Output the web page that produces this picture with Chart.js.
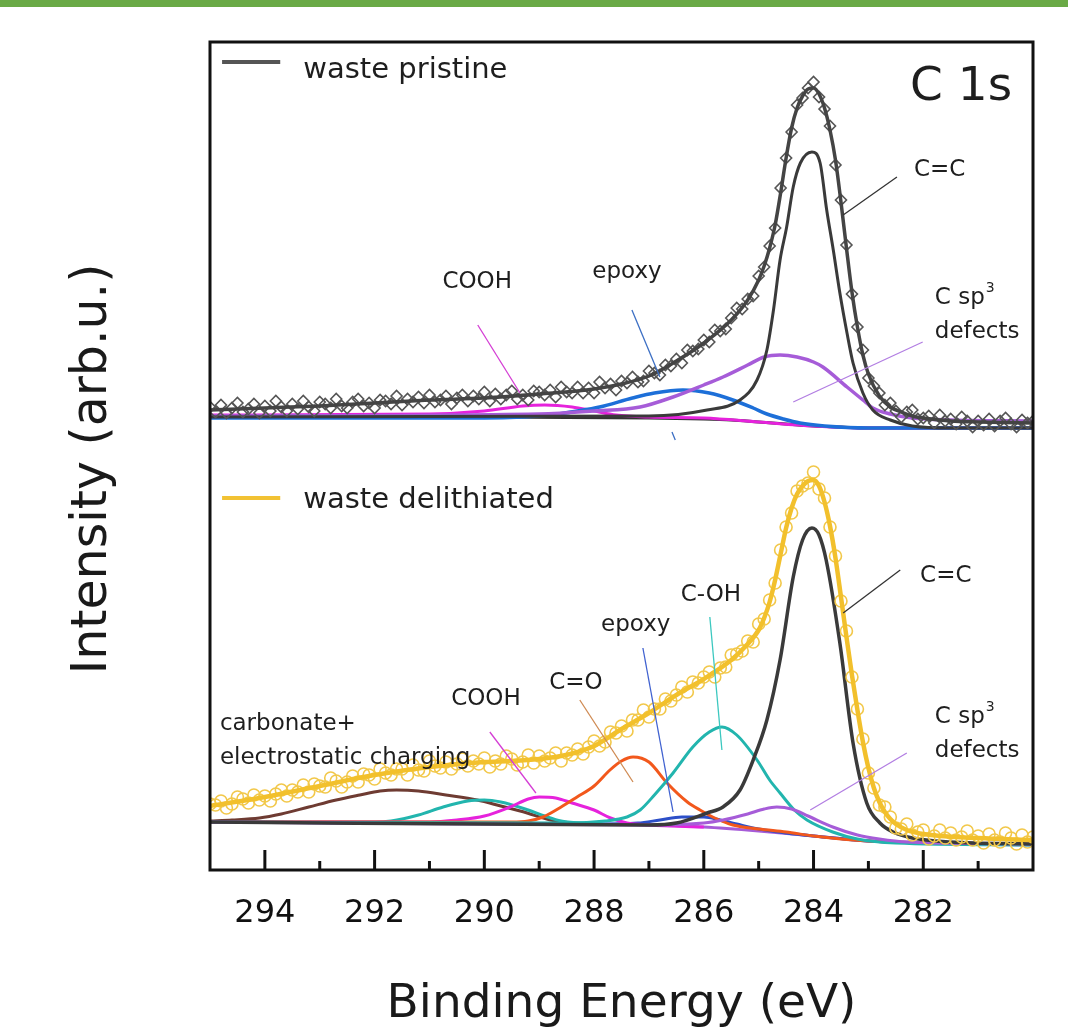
<!DOCTYPE html>
<html>
<head>
<meta charset="utf-8">
<title>C 1s XPS</title>
<script src="https://cdn.jsdelivr.net/npm/chart.js@4.4.1/dist/chart.umd.min.js"></script>
<style>
  html, body { margin: 0; padding: 0; background: #fff; }
  #wrap { position: relative; width: 1068px; height: 1034px; }
  #topBar { position: absolute; left: 0; top: 0; width: 1068px; height: 7px; background: #6aaa46; }
</style>
</head>
<body>
<div id="wrap">
  <canvas id="xpsChart" width="1068" height="1034"></canvas>
  <div id="topBar"></div>
</div>
<script>
// binding energy grid of the measured spectra (eV)
const energy = [
  295.0,294.9,294.8,294.7,294.6,294.5,294.4,294.3,294.2,294.1,
  294.0,293.9,293.8,293.7,293.6,293.5,293.4,293.3,293.2,293.1,
  293.0,292.9,292.8,292.7,292.6,292.5,292.4,292.3,292.2,292.1,
  292.0,291.9,291.8,291.7,291.6,291.5,291.4,291.3,291.2,291.1,
  291.0,290.9,290.8,290.7,290.6,290.5,290.4,290.3,290.2,290.1,
  290.0,289.9,289.8,289.7,289.6,289.5,289.4,289.3,289.2,289.1,
  289.0,288.9,288.8,288.7,288.6,288.5,288.4,288.3,288.2,288.1,
  288.0,287.9,287.8,287.7,287.6,287.5,287.4,287.3,287.2,287.1,
  287.0,286.9,286.8,286.7,286.6,286.5,286.4,286.3,286.2,286.1,
  286.0,285.9,285.8,285.7,285.6,285.5,285.4,285.3,285.2,285.1,
  285.0,284.9,284.8,284.7,284.6,284.5,284.4,284.3,284.2,284.1,
  284.0,283.9,283.8,283.7,283.6,283.5,283.4,283.3,283.2,283.1,
  283.0,282.9,282.8,282.7,282.6,282.5,282.4,282.3,282.2,282.1,
  282.0,281.9,281.8,281.7,281.6,281.5,281.4,281.3,281.2,281.1,
  281.0,280.9,280.8,280.7,280.6,280.5,280.4,280.3,280.2,280.1,
  280.0
];

// measured intensity, waste pristine (offset upwards)
const pristineCounts = [
  463,458,465,457,462,467,458,461,466,457,
  464,459,469,463,459,466,461,469,463,459,
  468,466,462,471,464,462,468,471,464,467,
  462,470,469,466,474,465,471,468,473,467,
  475,468,470,474,466,472,475,469,474,471,
  478,469,476,471,475,479,471,475,470,479,
  478,475,480,473,483,478,477,483,477,482,
  477,488,482,486,480,489,487,493,488,489,
  499,497,495,505,504,511,507,520,519,521,
  530,528,540,539,541,552,562,561,571,574,
  594,603,624,642,682,712,738,765,772,782,
  788,773,761,744,705,670,625,576,543,520,
  492,484,477,465,467,459,453,458,460,451,
  452,454,447,455,449,451,446,453,449,443,
  449,445,451,444,449,452,446,443,450,447,
  449
];

// measured intensity, waste delithiated
const delithCounts = [
  66,65,69,62,66,73,71,67,75,70,
  74,69,76,80,74,80,78,85,78,86,
  84,83,92,89,83,88,94,88,96,95,
  91,101,97,95,101,101,95,105,100,99,
  109,104,102,108,101,106,111,104,109,106,
  112,103,109,106,114,111,105,108,115,107,
  114,109,112,117,109,117,115,121,116,123,
  129,124,128,138,137,144,139,150,150,160,
  153,161,161,171,169,175,183,178,188,187,
  193,198,193,202,203,215,216,219,229,228,
  246,251,270,287,320,343,357,379,384,387,
  398,381,372,343,314,269,239,193,161,131,
  97,82,65,63,53,42,41,46,35,38,
  40,31,34,40,32,37,30,33,39,30,
  34,27,36,30,28,37,32,26,35,28,
  33
];

// fitted curves, [eV, intensity]
const pristineEnvelope = [[295,460],[294,462],[293,464],[292,467],[291,470],[290,472],[289,476],[288,481],[287.5,486],[287,494],[286.5,509],[286,527],[285.5,550],[285.2,570],[285,590],[284.9,604],[284.8,622],[284.7,645],[284.6,677],[284.5,712],[284.4,742],[284.3,762],[284.2,774],[284.1,781],[284,782],[283.9,776],[283.8,762],[283.7,740],[283.6,710],[283.5,668],[283.4,622],[283.3,578],[283.2,543],[283.1,515],[283,496],[282.8,474],[282.6,463],[282.4,458],[282.2,454],[282,452],[281.5,449],[281,448],[280,447]];
const pristineBackground = [[295,453],[290,453],[287,452],[286,451],[285.5,450],[285,448],[284.5,446],[284,444],[283.5,443],[283,442],[280,442]];
const pristineCC = [[295,453],[287,454],[285.94,460],[285.34,470],[285.03,490],[284.85,520],[284.73,560],[284.61,610],[284.49,643],[284.37,683],[284.24,707],[284.03,718],[283.88,707],[283.76,660],[283.64,620],[283.52,577],[283.39,537],[283.28,507],[283.1,477],[282.92,460],[282.6,450],[282.2,444],[281.5,442],[280,442]];
const pristineSp3 = [[295,454],[289,456],[288,459],[287.16,463],[286.56,473],[286,485],[285.65,493],[285.2,505],[284.9,513],[284.61,515],[284.3,513],[284,508],[283.83,503],[283.39,483],[283.1,470],[282.92,462],[282.6,456],[282.2,452],[281.5,450],[280,449]];
const pristineEpoxy = [[295,452],[290,452],[289.3,453],[288.8,455],[288.3,459],[287.9,463],[287.3,472],[286.9,477],[286.38,480],[285.9,477],[285.47,470],[285.1,462],[284.85,456],[284.55,451],[284.25,447],[283.8,444],[283,442],[280,442]];
const pristineCOOH = [[295,455],[291,456],[290,459],[289.3,464],[288.9,465],[288.4,463],[288,459],[287.6,455],[287,453],[286,452],[285,448],[284,444],[283,442],[280,442]];

const delithEnvelope = [[295,64],[294,73],[293,84],[292,95],[291,103],[290,108],[289.5,109],[289,111],[288.6,114],[288.3,118],[288,124],[287.5,141],[287,157],[286.5,175],[286,191],[285.5,210],[285.2,226],[285,240],[284.9,252],[284.8,268],[284.7,290],[284.6,316],[284.5,342],[284.4,362],[284.3,376],[284.2,384],[284.1,389],[284,390],[283.9,384],[283.8,368],[283.7,344],[283.6,312],[283.5,273],[283.4,233],[283.3,195],[283.2,160],[283.1,128],[283,102],[282.9,82],[282.8,68],[282.7,58],[282.6,51],[282.5,46],[282.3,40],[282,36],[281,32],[280,30]];
const delithBackground = [[295,48],[290,47],[288,46],[287,45],[286,43],[285,39],[284,34],[283,29],[282,27],[280,25]];
const delithCC = [[295,48],[287,45],[286.5,47],[285.94,57],[285.65,63],[285.34,80],[285.1,110],[284.85,150],[284.61,210],[284.37,293],[284.2,330],[284.03,342],[283.9,335],[283.77,310],[283.52,227],[283.28,127],[283.03,67],[282.79,47],[282.55,38],[282.2,32],[281.5,28],[280,26]];
const delithCOH = [[295,48],[288.5,47],[287.8,49],[287.4,53],[287.16,60],[286.9,75],[286.56,97],[286.2,123],[285.9,138],[285.67,143],[285.4,135],[285.03,110],[284.8,90],[284.61,77],[284.35,60],[284.12,50],[283.65,38],[283.2,31],[282.5,27],[280,25]];
const delithShake = [[295,48],[292,48],[291.7,49],[291.2,55],[290.75,63],[290.3,69],[290,70],[289.7,68],[289.2,60],[288.9,54],[288.6,49],[288,46]];
const delithCarbonate = [[295,49],[294.6,50],[294.1,52],[293.7,56],[293.2,63],[292.7,70],[292.27,75],[291.9,79],[291.6,80],[291.2,79],[290.7,75],[290.13,70],[289.7,64],[289.22,57],[288.8,50],[288.4,47],[288,46]];
const delithCOOH = [[295,48],[291,48],[290.5,50],[290,54],[289.53,63],[289.2,71],[289,73],[288.7,72],[288.4,67],[288,60],[287.7,52],[287.4,47],[287,45],[286,43]];
const delithCO = [[295,48],[289.5,48],[289.2,49],[288.93,53],[288.6,63],[288.31,73],[288,84],[287.71,100],[287.5,109],[287.29,113],[287,108],[286.67,87],[286.3,68],[286.07,60],[285.8,52],[285.47,45],[285,41],[284.5,38],[284,34],[283,29],[280,26]];
const delithEpoxy = [[295,48],[288,46],[287.2,47],[286.8,50],[286.4,53],[286,53],[285.7,50],[285.4,46],[285,41],[284.5,37],[284,34],[283,29],[280,26]];
const delithSp3 = [[295,48],[287,45],[286,47],[285.65,50],[285.2,56],[284.9,61],[284.67,63],[284.4,61],[284.1,54],[283.65,43],[283.2,35],[282.8,31],[282.3,28],[280,26]];

// axis
const xTickLabels = [294, 292, 290, 288, 286, 284, 282];
const majorTicks = [294, 292, 290, 288, 286, 284, 282];
const minorTicks = [293, 291, 289, 287, 285, 283, 281];

// text labels, placed in data coordinates
const labels = [
  { text: 'C 1s', e: 281.31, v: 782, size: 47 },
  { text: 'COOH', e: 290.13, v: 588, size: 23 },
  { text: 'epoxy', e: 287.40, v: 598, size: 23 },
  { text: 'C=C', e: 281.70, v: 700, size: 23 },
  { text: 'C sp', sup: '3', e: 281.79, v: 572, size: 23, align: 'left' },
  { text: 'defects', e: 281.79, v: 538, size: 23, align: 'left' },
  { text: 'C=C', e: 281.59, v: 294, size: 23 },
  { text: 'C-OH', e: 285.87, v: 275, size: 23 },
  { text: 'epoxy', e: 287.24, v: 245, size: 23 },
  { text: 'C=O', e: 288.33, v: 187, size: 23 },
  { text: 'COOH', e: 289.97, v: 171, size: 23 },
  { text: 'carbonate+', e: 294.82, v: 146, size: 23, align: 'left' },
  { text: 'electrostatic charging', e: 294.82, v: 112, size: 23, align: 'left' },
  { text: 'C sp', sup: '3', e: 281.79, v: 153, size: 23, align: 'left' },
  { text: 'defects', e: 281.79, v: 119, size: 23, align: 'left' },
  { text: 'waste pristine', e: 293.30, v: 800, size: 29, align: 'left' },
  { text: 'waste delithiated', e: 293.30, v: 370, size: 29, align: 'left' }
];

// leader lines and legend keys, data coordinates
const leaders = [
  { from: [290.12, 545], to: [289.35, 477], color: '#d43ed4', width: 1.3 },
  { from: [287.31, 560], to: [286.80, 493], color: '#3c6fc4', width: 1.3 },
  { from: [286.58, 438], to: [286.52, 430], color: '#3c6fc4', width: 1.3 },
  { from: [282.48, 693], to: [283.46, 655], color: '#333333', width: 1.3 },
  { from: [282.01, 528], to: [284.37, 468], color: '#b27ee2', width: 1.3 },
  { from: [282.42, 300], to: [283.46, 257], color: '#333333', width: 1.3 },
  { from: [285.89, 253], to: [285.67, 120], color: '#3cc8c0', width: 1.3 },
  { from: [287.11, 222], to: [286.56, 58], color: '#4062d0', width: 1.3 },
  { from: [288.26, 170], to: [287.29, 88], color: '#cf8a52', width: 1.3 },
  { from: [289.90, 138], to: [289.06, 77], color: '#d43ed4', width: 1.3 },
  { from: [282.30, 117], to: [284.06, 60], color: '#b27ee2', width: 1.3 },
  { from: [294.78, 808], to: [293.72, 808], color: '#555555', width: 4 },
  { from: [294.78, 372], to: [293.72, 372], color: '#f2c233', width: 4 }
];

const FONT = "'DejaVu Sans', sans-serif";

function pts(arr) {
  return arr.map(p => ({ x: p[0], y: p[1] }));
}

function fitLine(arr, color, width) {
  return {
    data: pts(arr),
    showLine: true,
    borderColor: color,
    borderWidth: width,
    pointRadius: 0,
    fill: false,
    cubicInterpolationMode: 'monotone'
  };
}

function measured(values, style, color, radius) {
  return {
    data: energy.map((e, i) => ({ x: e, y: values[i] })),
    showLine: false,
    pointStyle: style,
    pointRadius: radius,
    pointBorderWidth: 1.6,
    pointBorderColor: color,
    pointBackgroundColor: 'rgba(0,0,0,0)'
  };
}

const xpsDecor = {
  id: 'xpsDecor',
  afterDatasetsDraw(chart) {
    const { ctx, chartArea: a, scales: { x, y } } = chart;
    ctx.save();

    // leader lines + legend keys
    leaders.forEach(l => {
      ctx.strokeStyle = l.color;
      ctx.lineWidth = l.width;
      ctx.beginPath();
      ctx.moveTo(x.getPixelForValue(l.from[0]), y.getPixelForValue(l.from[1]));
      ctx.lineTo(x.getPixelForValue(l.to[0]), y.getPixelForValue(l.to[1]));
      ctx.stroke();
    });

    // labels
    ctx.fillStyle = '#1e1e1e';
    ctx.textBaseline = 'middle';
    labels.forEach(t => {
      const px = x.getPixelForValue(t.e);
      const py = y.getPixelForValue(t.v);
      ctx.font = t.size + 'px ' + FONT;
      ctx.textAlign = t.align || 'center';
      ctx.fillText(t.text, px, py);
      if (t.sup) {
        const w = ctx.measureText(t.text).width;
        ctx.font = Math.round(t.size * 0.6) + 'px ' + FONT;
        ctx.textAlign = 'left';
        ctx.fillText(t.sup, px + w + 1, py - t.size * 0.4);
      }
    });

    // frame
    ctx.strokeStyle = '#111';
    ctx.lineWidth = 3;
    ctx.strokeRect(a.left, a.top, a.right - a.left, a.bottom - a.top);

    // inward ticks on the bottom axis
    ctx.lineWidth = 3;
    majorTicks.forEach(v => {
      const px = x.getPixelForValue(v);
      ctx.beginPath(); ctx.moveTo(px, a.bottom); ctx.lineTo(px, a.bottom - 20); ctx.stroke();
    });
    minorTicks.forEach(v => {
      const px = x.getPixelForValue(v);
      ctx.beginPath(); ctx.moveTo(px, a.bottom); ctx.lineTo(px, a.bottom - 9); ctx.stroke();
    });

    // axis titles
    ctx.fillStyle = '#1a1a1a';
    ctx.textAlign = 'center';
    ctx.textBaseline = 'middle';
    ctx.font = '47px ' + FONT;
    ctx.fillText('Binding Energy (eV)', (a.left + a.right) / 2, a.bottom + 135);

    ctx.translate(a.left - 117, (a.top + a.bottom) / 2 + 13);
    ctx.rotate(-Math.PI / 2);
    ctx.font = '49px ' + FONT;
    ctx.fillText('Intensity (arb.u.)', 0, 0);

    ctx.restore();
  }
};

const datasets = [
  fitLine(pristineEnvelope, '#444444', 3.5),
  fitLine(delithEnvelope, '#f2c02c', 4.5),
  measured(pristineCounts, 'rectRot', '#555555', 5.5),
  measured(delithCounts, 'circle', '#f2c84a', 6),
  fitLine(pristineCC, '#3a3a3a', 3),
  fitLine(delithCC, '#3a3a3a', 3.5),
  fitLine(pristineSp3, '#a65cd8', 3.5),
  fitLine(delithSp3, '#a65cd8', 3),
  fitLine(delithCOH, '#22b5ae', 3),
  fitLine(delithCO, '#f2581c', 3),
  fitLine(delithCOOH, '#e622dc', 3),
  fitLine(pristineEpoxy, '#1d6fd8', 3.5),
  fitLine(delithEpoxy, '#2c4fc8', 3),
  fitLine(pristineCOOH, '#e622dc', 3),
  fitLine(delithShake, '#22b5ae', 3),
  fitLine(delithCarbonate, '#6e3b32', 3),
  fitLine(pristineBackground, '#333333', 3),
  fitLine(delithBackground, '#a65cd8', 3)
];

new Chart(document.getElementById('xpsChart'), {
  type: 'scatter',
  data: { datasets: datasets },
  options: {
    responsive: false,
    animation: false,
    layout: { padding: { left: 210, right: 35, top: 42, bottom: 0 } },
    plugins: {
      legend: { display: false },
      tooltip: { enabled: false }
    },
    scales: {
      x: {
        type: 'linear',
        reverse: true,
        min: 280,
        max: 295,
        grid: { display: false, drawTicks: false },
        border: { display: false },
        afterBuildTicks: s => { s.ticks = xTickLabels.map(v => ({ value: v })); },
        afterFit: s => { s.height = 164; },
        ticks: {
          color: '#111',
          padding: 24,
          font: { family: FONT, size: 32 }
        }
      },
      y: { min: 0, max: 828, display: false }
    }
  },
  plugins: [xpsDecor]
});
</script>
</body>
</html>
